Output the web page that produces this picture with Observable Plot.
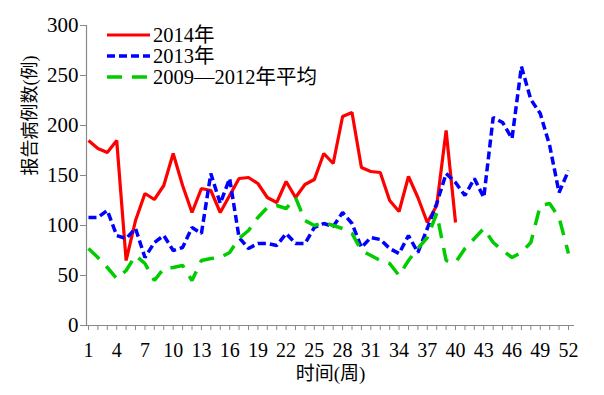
<!DOCTYPE html>
<html><head><meta charset="utf-8">
<script src="https://cdn.jsdelivr.net/npm/d3@7"></script>
<script src="https://cdn.jsdelivr.net/npm/@observablehq/plot@0.6"></script>
<style>
body{margin:0;background:#fff;}
#wrap{position:relative;width:604px;height:395px;}
#legend{position:absolute;left:0;top:0;pointer-events:none;}
</style></head><body><div id="wrap"></div>
<script>
const weeks = [1,2,3,4,5,6,7,8,9,10,11,12,13,14,15,16,17,18,19,20,21,22,23,24,25,26,27,28,29,30,31,32,33,34,35,36,37,38,39,40,41,42,43,44,45,46,47,48,49,50,51,52];
const cases2014 = [185,177,173,185,65,105,132,126,140,172,140,113,137,135,113,130,147,148,142,128,123,144,128,141,146,172,162,209,213,158,154,153,125,114,149,128,103,120,195,103];
const cases2013 = [108,108,115,90,87,97,68,83,90,75,78,98,92,152,122,147,88,77,82,82,80,92,82,82,98,102,99,113,102,78,88,86,77,72,90,73,97,122,152,143,130,147,128,208,203,187,259,226,212,180,133,155];
const casesAvg = [77,68,58,47,55,70,62,45,57,58,60,45,65,67,68,73,87,95,108,118,120,117,128,105,100,103,100,97,92,75,70,65,62,50,65,77,88,112,65,63,77,87,97,83,75,68,73,83,120,122,108,72];
const seriesNames = ["2014年", "2013年", "2009—2012年平均"];
const seriesColors = ["#ff0000", "#0000ff", "#00cc00"];
const seriesDash = ["none", "8,4", "15,10"];
const xTickLabels = [1,4,7,10,13,16,19,22,25,28,31,34,37,40,43,46,49,52];
const yTicks = [0,50,100,150,200,250,300];
const xLabel = "时间(周)";
const yLabel = "报告病例数(例)";

const FONT = "'Liberation Serif','Times New Roman','Noto Sans CJK SC',serif";
const xDomain = [0.79, 52.64];
const yDomain = [0, 300];

const rows = [];
const allSeries = [cases2014, cases2013, casesAvg];
allSeries.forEach((vals, si) => vals.forEach((v, i) => rows.push({week: weeks[i], value: v, series: seriesNames[si]})));

const lineMarks = seriesNames.map((name, si) =>
  Plot.line(rows.filter(d => d.series === name), {
    x: "week", y: "value",
    stroke: seriesColors[si],
    strokeWidth: si === 0 ? 3.2 : 3.5,
    strokeDasharray: seriesDash[si],
    strokeLinecap: "butt",
    strokeLinejoin: "miter"
  })
);

const chart = Plot.plot({
  width: 604,
  height: 395,
  marginLeft: 86,
  marginRight: 30,
  marginTop: 25,
  marginBottom: 70,
  style: {fontFamily: FONT, fontSize: "20px", background: "#fff", color: "#000"},
  x: {type: "linear", domain: xDomain},
  y: {domain: yDomain},
  marks: [
    Plot.axisY({ticks: yTicks, tickSize: 6, tickPadding: 2, label: null, stroke: "#888", fill: "#000", fontSize: 21}),
    Plot.axisX({ticks: weeks, tickSize: 5, tickFormat: () => "", label: null, stroke: "#888"}),
    Plot.axisX({ticks: xTickLabels, tickSize: 0, tickPadding: 17, label: null, fill: "#000", fontSize: 20}),
    Plot.ruleY([yDomain[0]], {stroke: "#888", strokeWidth: 1.2}),
    Plot.ruleX([xDomain[0]], {y1: yDomain[0], y2: yDomain[1], stroke: "#888", strokeWidth: 1.2}),
    ...lineMarks,
    Plot.text([yLabel], {frameAnchor: "left", rotate: -90, dx: -56, fontSize: 18, fill: "#000"}),
    Plot.text([xLabel], {frameAnchor: "bottom", dy: 54, fontSize: 19, fill: "#000"})
  ]
});
const wrap = document.getElementById("wrap");
wrap.appendChild(chart);

// legend overlay
const lg = d3.select(wrap).append("svg").attr("id", "legend").attr("width", 604).attr("height", 395);
const legRows = [35, 56, 77];
seriesNames.forEach((name, si) => {
  lg.append("line").attr("x1", 107).attr("x2", 150).attr("y1", legRows[si]).attr("y2", legRows[si])
    .attr("stroke", seriesColors[si]).attr("stroke-width", si === 0 ? 3.2 : 3.5)
    .attr("stroke-dasharray", seriesDash[si]);
});
const lt = lg.append("text").attr("font-family", FONT).attr("font-size", 20.5).attr("fill", "#000");
seriesNames.forEach((name, si) => {
  lt.append("tspan").attr("x", 153).attr("y", legRows[si]).attr("dy", "0.35em").text(name);
});
</script>
</body></html>
